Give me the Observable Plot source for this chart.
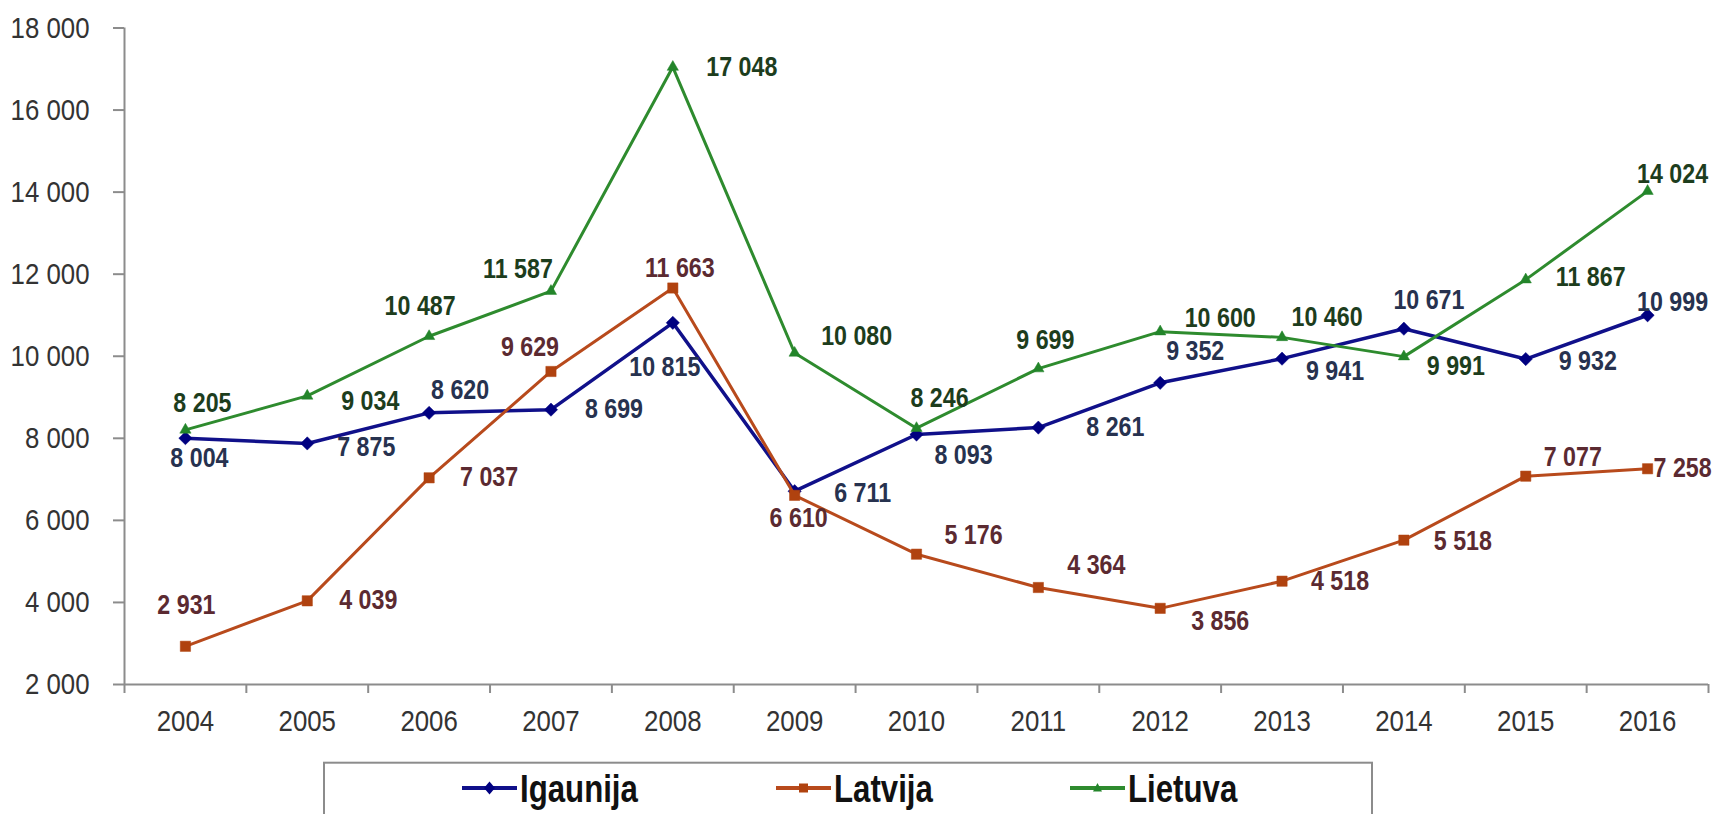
<!DOCTYPE html>
<html>
<head>
<meta charset="utf-8">
<script src="https://cdn.jsdelivr.net/npm/d3@7"></script>
<script src="https://cdn.jsdelivr.net/npm/@observablehq/plot@0.6"></script>
<style>
  html, body { margin: 0; padding: 0; overflow: hidden; background: #fff; }
  body { width: 1719px; height: 814px; position: relative; font-family: "Liberation Sans", Arial, sans-serif; }
  #chart svg { display: block; }
  #legend { position: absolute; left: 0; top: 740px; }
</style>
</head>
<body>
<div id="chart"></div>
<div id="legend"></div>
<script>
// ---- data ----
const years = [2004, 2005, 2006, 2007, 2008, 2009, 2010, 2011, 2012, 2013, 2014, 2015, 2016];
const igaunija = [8004, 7875, 8620, 8699, 10815, 6711, 8093, 8261, 9352, 9941, 10671, 9932, 10999];
const latvija  = [2931, 4039, 7037, 9629, 11663, 6610, 5176, 4364, 3856, 4518, 5518, 7077, 7258];
const lietuva  = [8205, 9034, 10487, 11587, 17048, 10080, 8246, 9699, 10600, 10460, 9991, 11867, 14024];
const seriesNames = ["Igaunija", "Latvija", "Lietuva"];
const yTicks = [2000, 4000, 6000, 8000, 10000, 12000, 14000, 16000, 18000];

// ---- label nudges (layout only) ----
const igaunijaLabelDx = [14, 59, 31, 63, -8, 68, 47, 77, 35, 53, 25, 62, 25];
const igaunijaLabelDy = [20, 4, -23, 0, 45, 2, 21, 0, -31, 13, -28, 2, -13];
const latvijaLabelDx  = [1, 61, 60, -21, 7, 4, 57, 58, 60, 58, 59, 47, 35];
const latvijaLabelDy  = [-41, 0, 0, -24, -20, 23, -19, -22, 13, 0, 1, -19, 0];
const lietuvaLabelDx  = [17, 63, -9, -33, 69, 62, 23, 7, 60, 45, 52, 65, 25];
const lietuvaLabelDy  = [-27, 5, -30, -22, 0, -17, -30, -28, -13, -20, 10, -2, -17];

// ---- styles ----
const diamond = {
  draw(ctx, size) {
    const h = Math.sqrt(size / 2);
    ctx.moveTo(0, -h); ctx.lineTo(h, 0); ctx.lineTo(0, h); ctx.lineTo(-h, 0); ctx.closePath();
  }
};
const styles = {
  Igaunija: {values: igaunija, dx: igaunijaLabelDx, dy: igaunijaLabelDy, line: "#10108a", marker: "#000080", label: "#27324f", symbol: diamond, r: 5.3, width: 3.5},
  Latvija:  {values: latvija,  dx: latvijaLabelDx,  dy: latvijaLabelDy,  line: "#b84a1c", marker: "#b0420f", label: "#5b2a31", symbol: "square", r: 5.8, width: 3},
  Lietuva:  {values: lietuva,  dx: lietuvaLabelDx,  dy: lietuvaLabelDy,  line: "#2e8b2e", marker: "#23852a", label: "#1d3d1d", symbol: "triangle", r: 4.2, width: 3}
};

const fmt = v => d3.format(",")(v).replace(/,/g, " ");
const font = "'Liberation Sans', Arial, sans-serif";
const axisGray = "#8c8c8c";

// condense text horizontally (reference uses a narrow face)
function condense(root, factor) {
  root.querySelectorAll("text").forEach(t => {
    const w = t.getComputedTextLength();
    if (w > 0) {
      t.setAttribute("textLength", (w * factor).toFixed(2));
      t.setAttribute("lengthAdjust", "spacingAndGlyphs");
    }
  });
}

const xDomain = [years[0] - 0.5, years[years.length - 1] + 0.5];
const boundaries = years.map(y => y - 0.5).concat([years[years.length - 1] + 0.5]);

const marks = [];
const labelMarks = [];
for (const name of seriesNames) {
  const s = styles[name];
  const rows = years.map((y, i) => ({year: y, value: s.values[i], i}));
  marks.push(Plot.line(rows, {x: "year", y: "value", stroke: s.line, strokeWidth: s.width}));
  marks.push(Plot.dot(rows, {x: "year", y: "value", symbol: s.symbol, r: s.r, fill: s.marker, stroke: s.marker, strokeWidth: 0.5}));
  for (const row of rows) {
    labelMarks.push(Plot.text([row], {
      x: "year", y: "value", text: d => fmt(d.value),
      dx: s.dx[row.i], dy: s.dy[row.i],
      fill: s.label, fontWeight: "bold", fontSize: 27, textAnchor: "middle", lineAnchor: "middle"
    }));
  }
}

const chart = Plot.plot({
  width: 1719,
  height: 740,
  marginLeft: 124,
  marginRight: 11,
  marginTop: 27.5,
  marginBottom: 56,
  style: {fontFamily: font, background: "white", overflow: "visible"},
  x: {type: "linear", domain: xDomain},
  y: {domain: [yTicks[0], yTicks[yTicks.length - 1]]},
  marks: [
    Plot.axisY(yTicks, {tickSize: 11, tickPadding: 24, tickFormat: fmt, fontSize: 30, fill: "#333", stroke: axisGray, strokeWidth: 2, label: null}),
    Plot.axisX(boundaries, {tickSize: 9, tickFormat: () => "", stroke: axisGray, strokeWidth: 2, label: null}),
    Plot.axisX(years, {tickSize: 0, tickPadding: 25, tickFormat: d => String(d), fontSize: 30, fill: "#333", label: null}),
    Plot.ruleX([xDomain[0]], {stroke: axisGray, strokeWidth: 2}),
    Plot.ruleY([yTicks[0]], {stroke: axisGray, strokeWidth: 2}),
    ...marks,
    ...labelMarks
  ]
});
document.getElementById("chart").appendChild(chart);
condense(chart, 0.86);

// ---- legend (below the chart) ----
const legendLineX = [462, 776, 1070];
const lsvg = d3.select("#legend").append("svg").attr("width", 1719).attr("height", 74);
lsvg.append("rect").attr("x", 324).attr("y", 22.7).attr("width", 1048).attr("height", 80)
  .attr("fill", "white").attr("stroke", axisGray).attr("stroke-width", 2);
seriesNames.forEach((name, k) => {
  const s = styles[name];
  const x0 = legendLineX[k];
  const g = lsvg.append("g").attr("transform", `translate(${x0},48)`);
  g.append("line").attr("x1", 0).attr("x2", 55).attr("stroke", s.line).attr("stroke-width", 4);
  let d;
  if (name === "Igaunija") d = "M27.5,-6.5 L33,0 L27.5,6.5 L22,0 Z";
  else if (name === "Latvija") d = "M23,-4.5 H32 V4.5 H23 Z";
  else d = "M27.5,-5 L32,3.5 L23,3.5 Z";
  g.append("path").attr("d", d).attr("fill", s.marker);
  g.append("text").attr("x", 58).attr("y", 0).attr("dy", "0.36em")
    .attr("font-family", font).attr("font-weight", "bold").attr("font-size", 39).attr("fill", "#111")
    .text(name);
});
condense(lsvg.node(), 0.8);
</script>
</body>
</html>
